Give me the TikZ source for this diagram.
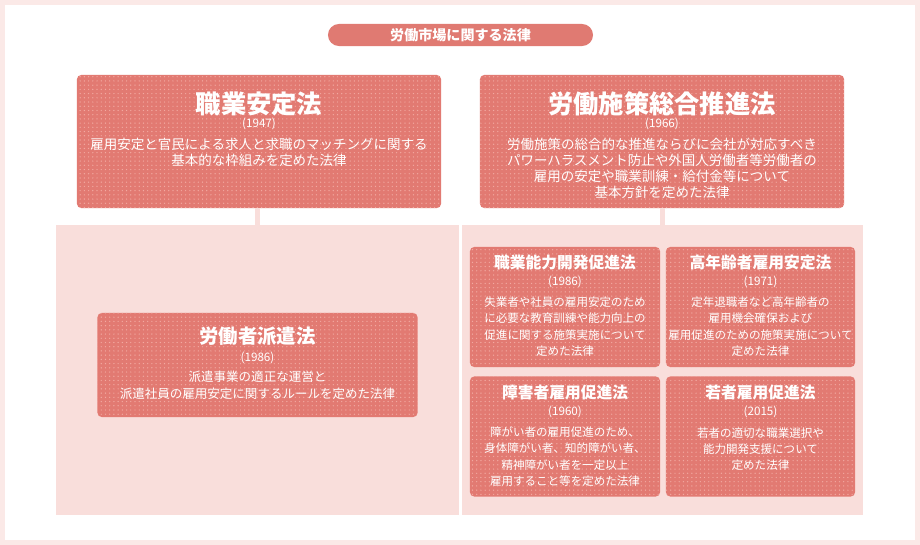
\documentclass[tikz,border=0pt]{standalone}
\usepackage{fontspec}
\setmainfont{Noto Sans CJK JP}
\usetikzlibrary{positioning,patterns}
\definecolor{lawred}{HTML}{E27A72}
\definecolor{lawdot}{HTML}{F2A9A1}
\definecolor{panelpink}{HTML}{F9DEDB}
\definecolor{framepink}{HTML}{FBE9E7}
\definecolor{pillred}{HTML}{E07A72}

\begin{document}
\begin{tikzpicture}
[x=0.025cm, y=-0.025cm,
lawbox/.style={fill=lawred,rounded corners=3pt,inner sep=0pt,postaction={pattern=dots,pattern color=lawdot}},
panel/.style={fill=panelpink,inner sep=0pt},
link/.style={draw=panelpink,line width=3.6pt},
bigtitle/.style={text=white,inner sep=0pt,font=\bfseries\fontsize{18}{20}\selectfont},
midtitle/.style={text=white,inner sep=0pt,font=\bfseries\fontsize{13.8}{16}\selectfont},
smalltitle/.style={text=white,inner sep=0pt,font=\bfseries\fontsize{11.2}{13}\selectfont},
year/.style={text=white,inner sep=0pt,font=\fontsize{8.3}{9}\selectfont},
bigdesc/.style={text=white,inner sep=0pt,align=center,font=\fontsize{9.6}{11.4}\selectfont},
middesc/.style={text=white,inner sep=0pt,align=center,font=\fontsize{8.9}{12}\selectfont},
smalldesc/.style={text=white,inner sep=0pt,align=center,font=\fontsize{8.2}{11.6}\selectfont}]
% frame
\fill[framepink] (0,0) rectangle (920,545);
\fill[white] (5,5) rectangle (915,540);
\useasboundingbox (0,0) rectangle (920,545);
% heading
\node[fill=pillred,rounded corners=0.275cm,minimum width=6.625cm,minimum height=0.55cm,inner sep=0pt,
  text=white,font=\bfseries\fontsize{10}{12}\selectfont] (heading) at (460.5,35) {労働市場に関する法律};
% panels
\node[panel,minimum width=10.05cm,minimum height=7.25cm] (leftpanel) at (257.5,370) {};
\node[panel,minimum width=10.025cm,minimum height=7.25cm] (rightpanel) at (662.5,370) {};
% top laws
\node[lawbox,minimum width=9.1cm,minimum height=3.325cm] (shokugyo) at (259,141.5) {};
\node[lawbox,minimum width=9.1cm,minimum height=3.325cm] (sesaku) at (662,141.5) {};
\draw[link] (leftpanel.north |- shokugyo.south) -- (leftpanel.north);
\draw[link] (rightpanel.north |- sesaku.south) -- (rightpanel.north);

\node[bigtitle] (shokugyo-t) at (259,104) {職業安定法};
\node[year] (shokugyo-y) at (259,124) {(1947)};
\node[bigdesc] (shokugyo-d) at (259,152) {雇用安定と官民による求人と求職のマッチングに関する\\基本的な枠組みを定めた法律};

\node[bigtitle] (sesaku-t) at (662,104) {労働施策総合推進法};
\node[year] (sesaku-y) at (662,124) {(1966)};
\node[bigdesc] (sesaku-d) at (662,168) {労働施策の総合的な推進ならびに会社が対応すべき\\パワーハラスメント防止や外国人労働者等労働者の\\雇用の安定や職業訓練・給付金等について\\基本方針を定めた法律};

% left panel
\node[lawbox,minimum width=8cm,minimum height=2.6cm] (haken) at (257.5,365) {};
\node[midtitle] (haken-t) at (257.5,336) {労働者派遣法};
\node[year] (haken-y) at (257.5,358) {(1986)};
\node[middesc] (haken-d) at (257.5,385.5) {派遣事業の適正な運営と\\派遣社員の雇用安定に関するルールを定めた法律};

% right panel
\node[lawbox,minimum width=4.75cm,minimum height=3cm] (noryoku) at (565,307) {};
\node[lawbox,minimum width=4.725cm,minimum height=3cm] (konenrei) at (760.5,307) {};
\node[lawbox,minimum width=4.75cm,minimum height=3cm] (shogai) at (565,436.5) {};
\node[lawbox,minimum width=4.725cm,minimum height=3cm] (wakamono) at (760.5,436.5) {};

\node[smalltitle] (noryoku-t) at (565,263) {職業能力開発促進法};
\node[year] (noryoku-y) at (565,282) {(1986)};
\node[smalldesc] (noryoku-d) at (565,326.5) {失業者や社員の雇用安定のため\\に必要な教育訓練や能力向上の\\促進に関する施策実施について\\定めた法律};

\node[smalltitle] (konenrei-t) at (760.5,263) {高年齢者雇用安定法};
\node[year] (konenrei-y) at (760.5,282) {(1971)};
\node[smalldesc] (konenrei-d) at (760.5,326.5) {定年退職者など高年齢者の\\雇用機会確保および\\雇用促進のための施策実施について\\定めた法律};

\node[smalltitle] (shogai-t) at (565,393) {障害者雇用促進法};
\node[year] (shogai-y) at (565,412) {(1960)};
\node[smalldesc] (shogai-d) at (565,456.5) {障がい者の雇用促進のため、\\身体障がい者、知的障がい者、\\精神障がい者を一定以上\\雇用すること等を定めた法律};

\node[smalltitle] (wakamono-t) at (760.5,393) {若者雇用促進法};
\node[year] (wakamono-y) at (760.5,412) {(2015)};
\node[smalldesc] (wakamono-d) at (760.5,449) {若者の適切な職業選択や\\能力開発支援について\\定めた法律};
\end{tikzpicture}
\end{document}
